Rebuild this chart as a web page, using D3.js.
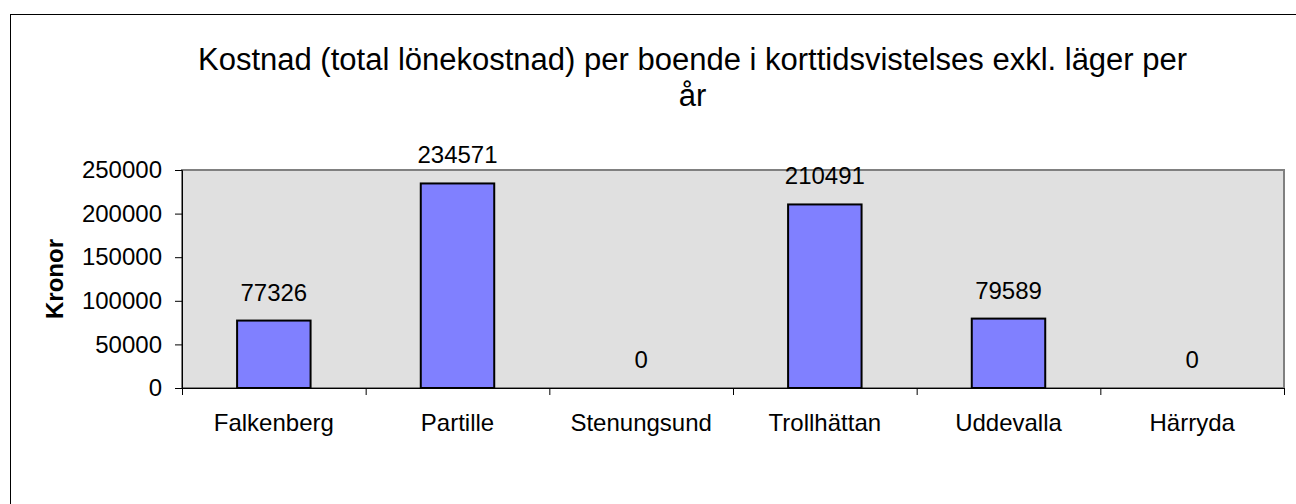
<!DOCTYPE html>
<html><head><meta charset="utf-8">
<script src="https://cdn.jsdelivr.net/npm/d3@7"></script>
<style>body{margin:0;background:#fff}svg{display:block}text{font-family:"Liberation Sans",Arial,sans-serif;fill:#000}</style>
</head><body>
<svg id="c" width="1296" height="504"></svg>
<script>
const categories = ["Falkenberg","Partille","Stenungsund","Trollhättan","Uddevalla","Härryda"];
const values = [77326, 234571, 0, 210491, 79589, 0];
const yTicks = [0, 50000, 100000, 150000, 200000, 250000];
const titleLines = ["Kostnad (total lönekostnad) per boende i korttidsvistelses exkl. läger per","år"];
const yLabel = "Kronor";

const svg = d3.select("#c");
const L = 182, R = 1284, T = 170, B = 388;
const FS = 24;

// outer chart border
svg.append("rect").attr("x",10.5).attr("y",14.5).attr("width",1300).attr("height",520)
  .attr("fill","#fff").attr("stroke","#000").attr("stroke-width",1);

const x = d3.scaleBand().domain(categories).range([L,R]).paddingInner(0).paddingOuter(0);
const y = d3.scaleLinear().domain([0,250000]).range([B,T]);

// plot area
svg.append("rect").attr("x",L).attr("y",T).attr("width",R-L).attr("height",B-T)
  .attr("fill","#e0e0e0").attr("stroke","#808080").attr("stroke-width",2);

// bars
const bw = x.bandwidth()*0.40;
svg.append("g").selectAll("rect").data(values).join("rect")
  .attr("x",(d,i)=>x(categories[i])+x.bandwidth()/2-bw/2)
  .attr("y",d=>y(d))
  .attr("width",bw)
  .attr("height",d=>B-y(d))
  .attr("fill","#8080ff").attr("stroke","#000").attr("stroke-width",2)
  .attr("display",d=>d>0?null:"none");

// value labels
svg.append("g").selectAll("text").data(values).join("text")
  .attr("x",(d,i)=>x(categories[i])+x.bandwidth()/2)
  .attr("y",d=>y(d)-20)
  .attr("text-anchor","middle").attr("font-size",FS)
  .text(d=>d);

// y axis
const yAxis = d3.axisLeft(y).tickValues(yTicks).tickSize(7).tickPadding(13).tickFormat(d=>d);
const gy = svg.append("g").attr("transform",`translate(${L},0)`).call(yAxis);
gy.select(".domain").attr("stroke","#000").attr("stroke-width",1);
gy.selectAll(".tick line").attr("stroke","#000");
gy.selectAll(".tick text").attr("font-size",FS).attr("font-family","Liberation Sans, Arial, sans-serif").attr("fill","#000");

// x axis
const xb = d3.scaleLinear().domain([0,categories.length]).range([L,R]);
const gx = svg.append("g").attr("transform",`translate(0,${B})`)
  .call(d3.axisBottom(xb).tickValues(d3.range(categories.length+1)).tickSize(7).tickFormat(""));
gx.select(".domain").attr("stroke","#000").attr("stroke-width",1);
gx.selectAll(".tick line").attr("stroke","#000");

svg.append("g").selectAll("text").data(categories).join("text")
  .attr("x",d=>x(d)+x.bandwidth()/2).attr("y",431)
  .attr("text-anchor","middle").attr("font-size",FS).text(d=>d);

// y label
svg.append("text").attr("transform",`translate(63,${(T+B)/2}) rotate(-90)`)
  .attr("text-anchor","middle").attr("font-size",FS).attr("font-weight","bold").text(yLabel);

// title
const t1 = svg.append("text").attr("x",198).attr("y",70).attr("font-size",31).text(titleLines[0]);
const w1 = t1.node().getComputedTextLength();
svg.append("text").attr("x",198+w1/2).attr("y",106).attr("text-anchor","middle").attr("font-size",31).text(titleLines[1]);
</script>
</body></html>
